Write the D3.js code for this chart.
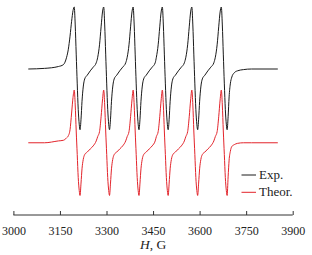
<!DOCTYPE html>
<html>
<head>
<meta charset="utf-8">
<script src="https://cdn.jsdelivr.net/npm/d3@7"></script>
<style>
  html, body { margin: 0; padding: 0; background: #fff; }
  svg { display: block; }
</style>
</head>
<body>
<div id="chart"></div>
<script>
const width = 312;
const height = 255;

// field, G (sample positions along the sweep)
const field = [
  3048, 3100, 3145, 3161, 3171.5,
  3176.7, 3182.5, 3187.6, 3192.1, 3196, 3199.2, 3202.4, 3205.7, 3208.9, 3212.1, 3214.7, 3217.9, 3221.1, 3225, 3229.8, 3237.9, 3247.6, 3257.2, 3266.9,
  3271.7, 3277.5, 3282.6, 3287.1, 3291, 3294.2, 3297.4, 3300.7, 3303.9, 3307.1, 3309.7, 3312.9, 3316.1, 3320, 3324.8, 3332.9, 3342.6, 3352.2, 3361.9,
  3366.7, 3372.5, 3377.6, 3382.1, 3386, 3389.2, 3392.4, 3395.7, 3398.9, 3402.1, 3404.7, 3407.9, 3411.1, 3415, 3419.8, 3427.9, 3437.6, 3447.2, 3456.9,
  3460.7, 3466.5, 3471.6, 3476.1, 3480, 3483.2, 3486.4, 3489.7, 3492.9, 3496.1, 3498.7, 3501.9, 3505.1, 3509, 3513.8, 3521.9, 3531.6, 3541.2, 3550.9,
  3555.7, 3561.5, 3566.6, 3571.1, 3575, 3578.2, 3581.4, 3584.7, 3587.9, 3591.1, 3593.7, 3596.9, 3600.1, 3604, 3608.8, 3616.9, 3626.6, 3636.2, 3645.9,
  3650.7, 3656.5, 3661.6, 3666.1, 3670, 3673.2, 3676.4, 3679.7, 3682.9, 3686.1, 3688.7, 3691.9, 3695.1, 3699, 3703.8, 3711.9, 3721.6, 3741, 3767, 3852
];

// experimental spectrum, a.u.
const expSignal = [
  0, 0.01, 0.04, 0.07, 0.19,
  0.31, 0.53, 0.77, 0.94, 1.00, 0.71, 0.24, -0.24, -0.65, -0.89, -0.98, -0.81, -0.52, -0.29, -0.16, -0.10, -0.03, 0.03, 0.10,
  0.19, 0.39, 0.68, 0.92, 1.00, 0.71, 0.24, -0.24, -0.65, -0.89, -0.98, -0.81, -0.52, -0.29, -0.16, -0.10, -0.03, 0.03, 0.10,
  0.19, 0.39, 0.68, 0.92, 1.00, 0.71, 0.24, -0.24, -0.65, -0.89, -0.98, -0.81, -0.52, -0.29, -0.16, -0.10, -0.03, 0.03, 0.10,
  0.19, 0.39, 0.68, 0.92, 1.00, 0.71, 0.24, -0.24, -0.65, -0.89, -0.98, -0.81, -0.52, -0.29, -0.16, -0.10, -0.03, 0.03, 0.10,
  0.19, 0.39, 0.68, 0.92, 1.00, 0.71, 0.24, -0.24, -0.65, -0.89, -0.98, -0.81, -0.52, -0.29, -0.16, -0.10, -0.03, 0.03, 0.10,
  0.19, 0.39, 0.68, 0.92, 1.00, 0.71, 0.24, -0.24, -0.65, -0.89, -0.98, -0.77, -0.45, -0.24, -0.13, -0.06, -0.03, -0.01, 0, 0
];

// simulated spectrum, a.u.
const theorSignal = [
  0, 0, 0.03, 0.04, 0.08,
  0.11, 0.21, 0.48, 0.73, 0.85, 0.61, 0.19, -0.19, -0.56, -0.77, -0.85, -0.65, -0.42, -0.27, -0.19, -0.15, -0.10, -0.05, 0.03,
  0.10, 0.18, 0.42, 0.69, 0.85, 0.61, 0.19, -0.19, -0.56, -0.77, -0.85, -0.65, -0.42, -0.27, -0.19, -0.15, -0.10, -0.05, 0.03,
  0.10, 0.18, 0.42, 0.69, 0.85, 0.61, 0.19, -0.19, -0.56, -0.77, -0.85, -0.65, -0.42, -0.27, -0.19, -0.15, -0.10, -0.05, 0.03,
  0.10, 0.18, 0.42, 0.69, 0.85, 0.61, 0.19, -0.19, -0.56, -0.77, -0.85, -0.65, -0.42, -0.27, -0.19, -0.15, -0.10, -0.05, 0.03,
  0.10, 0.18, 0.42, 0.69, 0.85, 0.61, 0.19, -0.19, -0.56, -0.77, -0.85, -0.65, -0.42, -0.27, -0.19, -0.15, -0.10, -0.05, 0.03,
  0.10, 0.18, 0.42, 0.69, 0.85, 0.61, 0.19, -0.19, -0.56, -0.77, -0.85, -0.55, -0.28, -0.14, -0.06, -0.03, -0.01, 0, 0, 0
];

const xTicks = [3000, 3150, 3300, 3450, 3600, 3750, 3900];
const seriesNames = ["Exp.", "Theor."];

const colors = { "Exp.": "#1a1a1a", "Theor.": "#e3242b" };
const offsets = { "Exp.": 0, "Theor.": -1.19 };

const svg = d3
  .select("#chart")
  .append("svg")
  .attr("width", width)
  .attr("height", height)
  .attr("viewBox", `0 0 ${width} ${height}`);

const x = d3.scaleLinear().domain([3000, 3900]).range([13.4, 292.7]);
const y = d3.scaleLinear().domain([-2.355, 1.113]).range([215, 0]);

const line = d3
  .line()
  .x((d) => x(d.h))
  .y((d) => y(d.v))
  .curve(d3.curveMonotoneX);

const series = [
  { name: "Exp.", values: expSignal },
  { name: "Theor.", values: theorSignal },
];

svg
  .selectAll("path.spectrum")
  .data(series)
  .join("path")
  .attr("class", "spectrum")
  .attr("fill", "none")
  .attr("stroke", (s) => colors[s.name])
  .attr("stroke-width", 1)
  .attr("stroke-linejoin", "round")
  .attr("d", (s) =>
    line(field.map((h, i) => ({ h, v: s.values[i] + offsets[s.name] }))),
  );

// x axis, ticks pointing up
const axis = svg
  .append("g")
  .attr("transform", "translate(0,215)")
  .call(d3.axisBottom(x).tickValues(xTicks).tickSize(-4).tickPadding(10).tickFormat(d3.format("d")));

axis.select(".domain").attr("stroke", "#333").attr("d", `M${x(3000)},0H${x(3900)}`);
axis.selectAll(".tick line").attr("stroke", "#333");
axis
  .selectAll(".tick text")
  .attr("font-family", "'Liberation Serif', 'Times New Roman', serif")
  .attr("font-size", 12)
  .attr("fill", "#222")
  .attr("y", 20)
  .attr("dy", 0);

const title = svg
  .append("text")
  .attr("x", x(3450))
  .attr("y", 249)
  .attr("text-anchor", "middle")
  .attr("font-family", "'Liberation Serif', 'Times New Roman', serif")
  .attr("font-size", 13.5)
  .attr("fill", "#222");
title.append("tspan").attr("font-style", "italic").text("H");
title.append("tspan").text(", G");

// legend
const legend = svg
  .selectAll("g.legend")
  .data(seriesNames)
  .join("g")
  .attr("class", "legend")
  .attr("transform", (d, i) => `translate(241.5,${175 + i * 17.3})`);

legend
  .append("line")
  .attr("x1", 0)
  .attr("x2", 14.5)
  .attr("stroke", (d) => colors[d])
  .attr("stroke-width", 1);

legend
  .append("text")
  .attr("x", 17.5)
  .attr("y", 4)
  .attr("font-family", "'Liberation Serif', 'Times New Roman', serif")
  .attr("font-size", 13)
  .attr("fill", "#222")
  .text((d) => d);
</script>
</body>
</html>
